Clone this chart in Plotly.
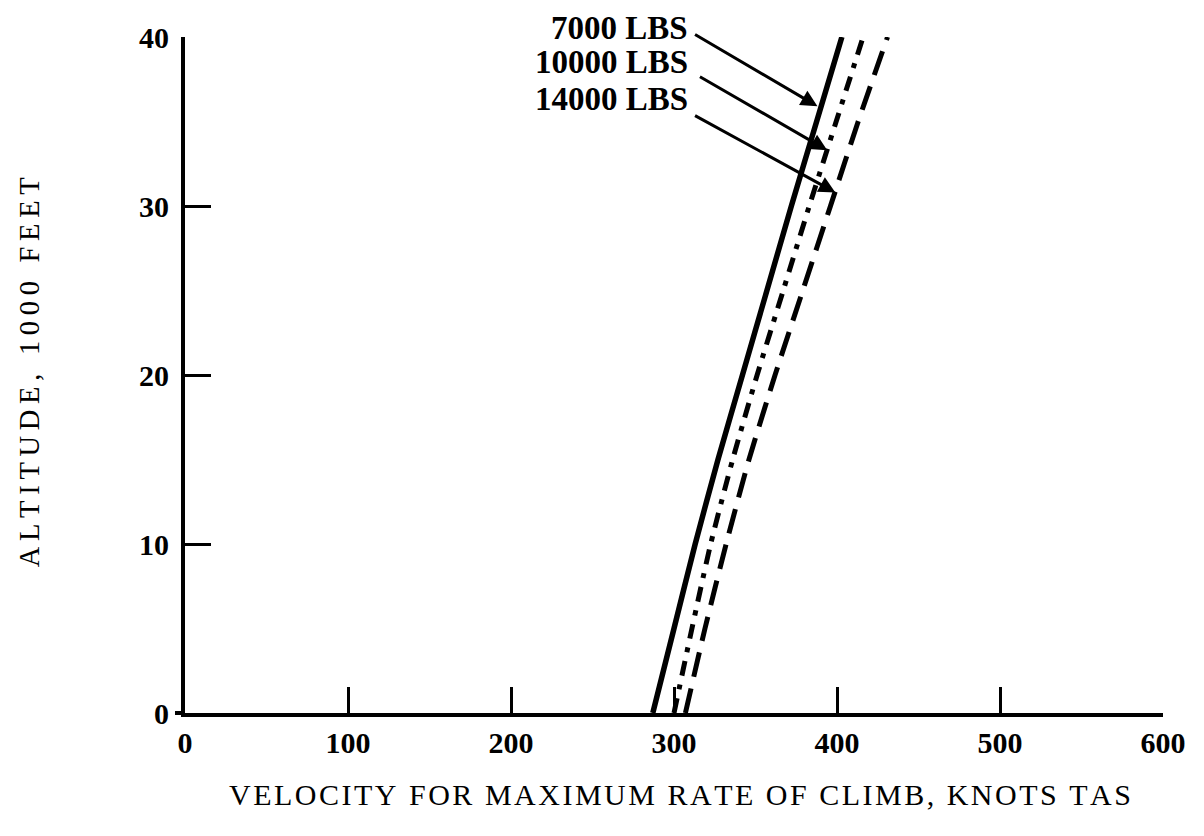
import plotly.graph_objects as go

# Data (velocity in knots TAS, altitude in 1000 ft)
alt = [0, 5, 10, 15, 20, 25, 30, 35, 40]
v_7000 = [287, 300, 313, 327, 342, 357, 372, 387.5, 403]
v_10000 = [300, 311, 322.5, 336, 351, 367, 383, 399.5, 416]
v_14000 = [307, 319, 332, 346, 362, 379, 396, 413, 431]

x_ticks = [0, 100, 200, 300, 400, 500, 600]
y_ticks = [0, 10, 20, 30, 40]

labels = ["7000 LBS", "10000 LBS", "14000 LBS"]
label_paper_y = [1.013, 0.963, 0.908]
arrow_tail = [(312, 40.2), (315, 37.7), (312, 35.4)]
arrow_head = [(388, 35.9), (394, 33.3), (399, 30.8)]

x_title = "VELOCITY FOR MAXIMUM RATE OF CLIMB, KNOTS TAS"
y_title = "ALTITUDE, 1000 FEET"

font = "Liberation Serif, DejaVu Serif, serif"


def spaced(s, sep):
    return sep.join(s)


fig = go.Figure()
fig.add_trace(go.Scatter(x=v_7000, y=alt, mode="lines",
                         line=dict(color="black", width=5.5, shape="spline", smoothing=0.6),
                         name="7000 LBS"))
fig.add_trace(go.Scatter(x=v_10000, y=alt, mode="lines",
                         line=dict(color="black", width=5, dash="15px,9px,5px,9px",
                                   shape="spline", smoothing=0.6),
                         name="10000 LBS"))
fig.add_trace(go.Scatter(x=v_14000, y=alt, mode="lines",
                         line=dict(color="black", width=5, dash="25px,12px",
                                   shape="spline", smoothing=0.6),
                         name="14000 LBS"))

for txt, ly in zip(labels, label_paper_y):
    fig.add_annotation(x=(690 - 185) / 978, y=ly, xref="paper", yref="paper",
                       text="<b>" + txt + "</b>",
                       showarrow=False, xanchor="right", yanchor="middle",
                       font=dict(family=font, size=33, color="black"))
for (tx, ty), (hx, hy) in zip(arrow_tail, arrow_head):
    fig.add_annotation(x=hx, y=hy, ax=tx, ay=ty, xref="x", yref="y",
                       axref="x", ayref="y", text="", showarrow=True,
                       arrowhead=2, arrowsize=1.1, arrowwidth=3, arrowcolor="black")

# axis titles
fig.add_annotation(x=(680 - 185) / 978, y=0, xref="paper", yref="paper",
                   text=spaced(x_title, "\u200a"), showarrow=False,
                   xanchor="center", yanchor="middle", yshift=-81,
                   font=dict(family=font, size=30, color="black"))
fig.add_annotation(x=0, y=0.504, xref="paper", yref="paper",
                   text=spaced(y_title, "\u2009"), showarrow=False, textangle=-90,
                   xanchor="center", yanchor="middle", xshift=-156,
                   font=dict(family=font, size=28.5, color="black"))

# small extension of the baseline to the left of the vertical axis
fig.add_shape(type="line", xref="paper", yref="paper", x0=-10 / 978, x1=0, y0=0, y1=0,
              line=dict(color="black", width=4))

tickfont = dict(family=font, size=30, color="black", weight="bold")

fig.update_layout(
    width=1204, height=836,
    margin=dict(l=177, r=49, t=29, b=131),
    paper_bgcolor="white", plot_bgcolor="white",
    showlegend=False,
    font=dict(family=font, color="black"),
    xaxis=dict(range=[0, 600], tickvals=x_ticks, ticktext=[str(v) for v in x_ticks],
               ticks="inside", ticklen=26, tickwidth=3, tickcolor="black",
               showline=True, linewidth=4, linecolor="black", showgrid=False,
               zeroline=False, tickfont=tickfont),
    yaxis=dict(range=[0, 40], tickvals=y_ticks, ticktext=[str(v) for v in y_ticks],
               ticks="inside", ticklen=26, tickwidth=3, tickcolor="black",
               showline=True, linewidth=4, linecolor="black", showgrid=False,
               zeroline=False, tickfont=tickfont, ticklabelstandoff=6),
)

fig.write_html("out.html")
